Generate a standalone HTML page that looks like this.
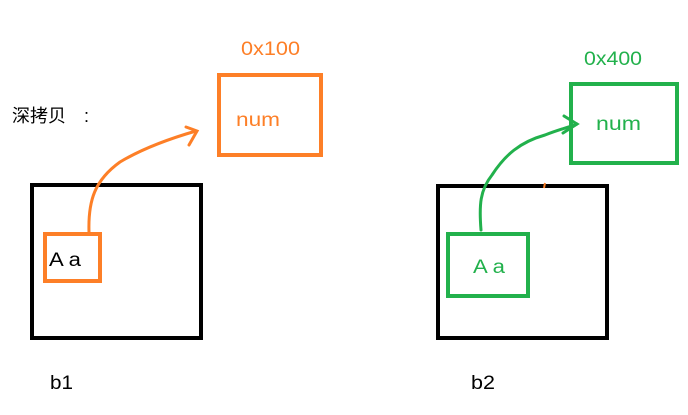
<!DOCTYPE html>
<html><head><meta charset="utf-8"><style>
body{margin:0;background:#fff;width:688px;height:410px;overflow:hidden}
text{font-family:"Liberation Sans","Noto Sans CJK SC",sans-serif}
</style></head><body>
<svg width="688" height="410" xmlns="http://www.w3.org/2000/svg">
<rect x="32" y="185" width="169" height="153" fill="none" stroke="#000" stroke-width="4"/>
<rect x="438" y="186" width="169" height="152" fill="none" stroke="#000" stroke-width="4"/>
<rect x="45" y="234" width="55" height="47" fill="none" stroke="#fd7f27" stroke-width="4"/>
<rect x="219" y="75" width="102" height="80" fill="none" stroke="#fd7f27" stroke-width="4"/>
<rect x="448" y="234" width="80" height="62" fill="none" stroke="#22b14c" stroke-width="4"/>
<rect x="571" y="84" width="106" height="79" fill="none" stroke="#22b14c" stroke-width="4"/>
<path d="M89 232 C88 200 95 180 120 162 C140 150 165 140 196 131" fill="none" stroke="#fd7f27" stroke-width="3" stroke-linecap="round"/>
<path d="M186 127 L197 131 L189 145" fill="none" stroke="#fd7f27" stroke-width="3" stroke-linecap="round"/>
<path d="M481 230 C479 205 480 190 492 175 C505 155 520 142 545 135 C560 129 570 127 577 124" fill="none" stroke="#22b14c" stroke-width="3" stroke-linecap="round"/>
<path d="M564 116 L577 124 L563 133" fill="none" stroke="#22b14c" stroke-width="3" stroke-linecap="round"/>
<line x1="545" y1="183" x2="544" y2="188" stroke="#fd7f27" stroke-width="2"/>
<text x="241" y="55" font-size="19" fill="#fd7f27" textLength="59" lengthAdjust="spacingAndGlyphs">0x100</text>
<text x="236" y="126" font-size="19" fill="#fd7f27" textLength="44" lengthAdjust="spacingAndGlyphs">num</text>
<text x="584" y="65" font-size="19" fill="#22b14c" textLength="58" lengthAdjust="spacingAndGlyphs">0x400</text>
<text x="596" y="130" font-size="19" fill="#22b14c" textLength="45" lengthAdjust="spacingAndGlyphs">num</text>
<text x="12" y="122" font-size="18" fill="#000">深拷贝　:</text>
<text x="49" y="266" font-size="19" fill="#000" textLength="32" lengthAdjust="spacingAndGlyphs">A a</text>
<text x="473" y="273" font-size="19" fill="#22b14c" textLength="32" lengthAdjust="spacingAndGlyphs">A a</text>
<text x="50" y="389" font-size="19" fill="#000" textLength="23" lengthAdjust="spacingAndGlyphs">b1</text>
<text x="471" y="389" font-size="19" fill="#000" textLength="24" lengthAdjust="spacingAndGlyphs">b2</text>
</svg>
</body></html>
